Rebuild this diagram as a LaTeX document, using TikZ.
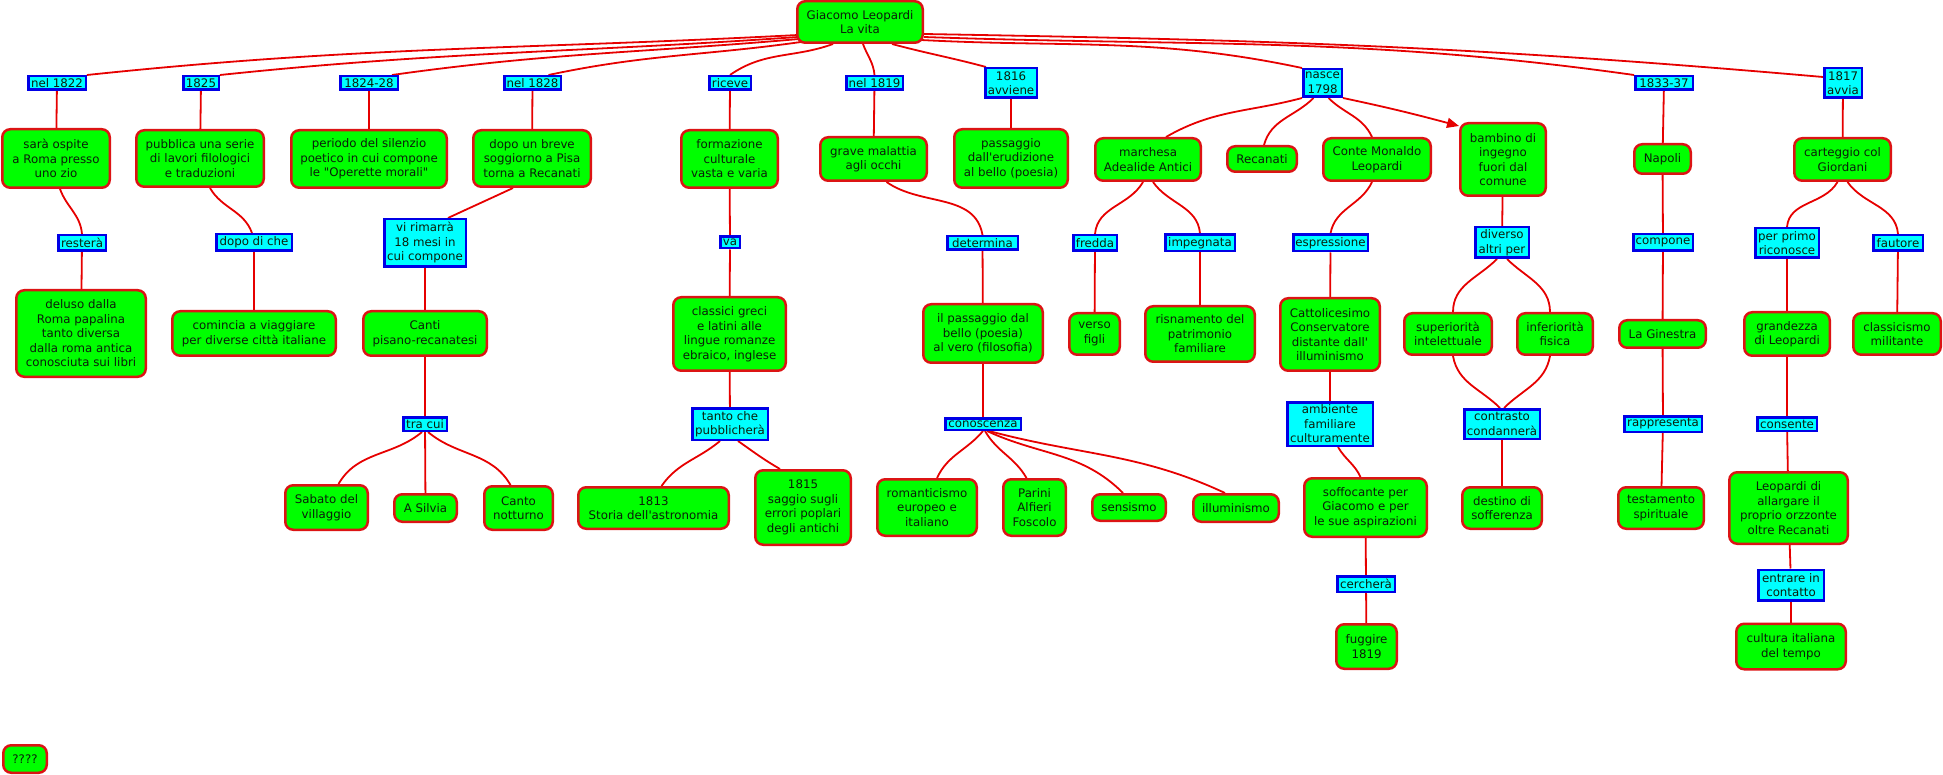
\documentclass[tikz,border=0pt]{standalone}
\usepackage{fontspec}
\setmainfont{DejaVu Sans}[Ligatures=TeXOff]
\usetikzlibrary{arrows.meta,backgrounds}
\definecolor{cgreen}{RGB}{0,255,0}
\definecolor{cred}{RGB}{220,20,20}
\definecolor{cblue}{RGB}{0,0,230}
\definecolor{ccyan}{RGB}{0,255,255}
\definecolor{lred}{RGB}{230,0,0}
\definecolor{ctext}{RGB}{10,30,10}
\begin{document}
\begin{tikzpicture}[x=1pt,y=1pt,
 cpt/.style={draw=cred, line width=2.5pt, fill=cgreen, rounded corners=8pt, align=center, inner sep=1pt, text=ctext, font=\fontsize{11.8}{14.5}\selectfont},
 lab/.style={draw=cblue, line width=2.5pt, fill=ccyan, align=center, inner sep=0pt, text=ctext, font=\fontsize{11.8}{14.5}\selectfont},
 con/.style={draw=lred, line width=1.8pt},
]
\useasboundingbox (0,0) rectangle (1943,-775);
% concepts
\node[cpt,minimum width=125.5pt,minimum height=41.5pt] (root) at (860,-22) {Giacomo Leopardi\\La vita};
\node[cpt,minimum width=107.5pt,minimum height=58.5pt] (sara) at (56,-158.5) {sarà ospite\\a Roma presso\\uno zio};
\node[cpt,minimum width=127.5pt,minimum height=56.5pt] (pubb) at (200,-158.5) {pubblica una serie\\di lavori filologici\\e traduzioni};
\node[cpt,minimum width=155.5pt,minimum height=57.5pt] (peri) at (369,-159) {periodo del silenzio\\poetico in cui compone\\le "Operette morali"};
\node[cpt,minimum width=117.5pt,minimum height=56.5pt] (dopo) at (532,-158.5) {dopo un breve\\soggiorno a Pisa\\torna a Recanati};
\node[cpt,minimum width=96.5pt,minimum height=57.5pt] (form) at (729.5,-159) {formazione\\culturale\\vasta e varia};
\node[cpt,minimum width=106.5pt,minimum height=43.5pt] (grav) at (873.5,-159) {grave malattia\\agli occhi};
\node[cpt,minimum width=113.5pt,minimum height=58.5pt] (pass) at (1011,-158.5) {passaggio\\dall'erudizione\\al bello (poesia)};
\node[cpt,minimum width=105.5pt,minimum height=42.5pt] (marc) at (1148,-159.5) {marchesa\\Adealide Antici};
\node[cpt,minimum width=69.5pt,minimum height=25.5pt] (reca) at (1262,-159) {Recanati};
\node[cpt,minimum width=107.5pt,minimum height=42.5pt] (cont) at (1377,-159.5) {Conte Monaldo\\Leopardi};
\node[cpt,minimum width=85.5pt,minimum height=72.5pt] (bamb) at (1503,-159.5) {bambino di\\ingegno\\fuori dal\\comune};
\node[cpt,minimum width=56.5pt,minimum height=29.5pt] (napo) at (1662.5,-159) {Napoli};
\node[cpt,minimum width=96.5pt,minimum height=42.5pt] (cart) at (1842.5,-159.5) {carteggio col\\Giordani};
\node[cpt,minimum width=129.5pt,minimum height=86.5pt] (delu) at (81,-333.5) {deluso dalla\\Roma papalina\\tanto diversa\\dalla roma antica\\conosciuta sui libri};
\node[cpt,minimum width=163.5pt,minimum height=44.5pt] (comi) at (254,-333.5) {comincia a viaggiare\\per diverse città italiane};
\node[cpt,minimum width=123.5pt,minimum height=44.5pt] (cant) at (425,-333.5) {Canti\\pisano-recanatesi};
\node[cpt,minimum width=112.5pt,minimum height=73.5pt] (clas) at (729.5,-334) {classici greci\\e latini alle\\lingue romanze\\ebraico, inglese};
\node[cpt,minimum width=119.5pt,minimum height=58.5pt] (ilpa) at (983,-333.5) {il passaggio dal\\bello (poesia)\\al vero (filosofia)};
\node[cpt,minimum width=50.5pt,minimum height=41.5pt] (vers) at (1094.5,-334) {verso\\figli};
\node[cpt,minimum width=109.5pt,minimum height=55.5pt] (risn) at (1200,-334) {risnamento del\\patrimonio\\familiare};
\node[cpt,minimum width=99.5pt,minimum height=72.5pt] (catt) at (1330,-334.5) {Cattolicesimo\\Conservatore\\distante dall'\\illuminismo};
\node[cpt,minimum width=87.5pt,minimum height=41.5pt] (supe) at (1448,-334) {superiorità\\intelettuale};
\node[cpt,minimum width=75.5pt,minimum height=41.5pt] (infe) at (1555,-334) {inferiorità\\fisica};
\node[cpt,minimum width=86.5pt,minimum height=27.5pt] (gine) at (1662.5,-334) {La Ginestra};
\node[cpt,minimum width=85.5pt,minimum height=43.5pt] (gran) at (1787,-334) {grandezza\\di Leopardi};
\node[cpt,minimum width=87.5pt,minimum height=41.5pt] (clmi) at (1897,-334) {classicismo\\militante};
\node[cpt,minimum width=82.5pt,minimum height=44.5pt] (saba) at (326.5,-507.5) {Sabato del\\villaggio};
\node[cpt,minimum width=62.5pt,minimum height=27.5pt] (silv) at (425.5,-508) {A Silvia};
\node[cpt,minimum width=68.5pt,minimum height=43.5pt] (nott) at (518.5,-508) {Canto\\notturno};
\node[cpt,minimum width=150.5pt,minimum height=41.5pt] (a1813) at (653.5,-508) {1813\\Storia dell'astronomia};
\node[cpt,minimum width=95.5pt,minimum height=74.5pt] (a1815) at (803,-507.5) {1815\\saggio sugli\\errori poplari\\degli antichi};
\node[cpt,minimum width=99.5pt,minimum height=56.5pt] (roma) at (927,-507.5) {romanticismo\\europeo e\\italiano};
\node[cpt,minimum width=62.5pt,minimum height=56.5pt] (pari) at (1034.5,-507.5) {Parini\\Alfieri\\Foscolo};
\node[cpt,minimum width=73.5pt,minimum height=26.5pt] (sens) at (1129,-507.5) {sensismo};
\node[cpt,minimum width=85.5pt,minimum height=27.5pt] (illu) at (1236,-508) {illuminismo};
\node[cpt,minimum width=122.5pt,minimum height=58.5pt] (soff) at (1365.5,-507.5) {soffocante per\\Giacomo e per\\le sue aspirazioni};
\node[cpt,minimum width=79.5pt,minimum height=41.5pt] (dest) at (1502,-508) {destino di\\sofferenza};
\node[cpt,minimum width=85.5pt,minimum height=41.5pt] (test) at (1661,-508) {testamento\\spirituale};
\node[cpt,minimum width=118.5pt,minimum height=71.5pt] (allar) at (1788.5,-508) {Leopardi di\\allargare il\\proprio orzzonte\\oltre Recanati};
\node[cpt,minimum width=60.5pt,minimum height=44.5pt] (fugg) at (1366.5,-646.5) {fuggire\\1819};
\node[cpt,minimum width=109.5pt,minimum height=45.5pt] (cult) at (1791,-646.5) {cultura italiana\\del tempo};
\node[cpt,minimum width=43.5pt,minimum height=27.5pt] (qq) at (25,-759) {????};
% labels
\node[lab,minimum width=57.5pt,minimum height=13.5pt] (l1822) at (57,-83) {nel 1822};
\node[lab,minimum width=35.5pt,minimum height=13.5pt] (l1825) at (201,-83) {1825};
\node[lab,minimum width=57.5pt,minimum height=13.5pt] (l1824) at (369,-83) {1824-28};
\node[lab,minimum width=56.5pt,minimum height=13.5pt] (l1828) at (532.5,-83) {nel 1828};
\node[lab,minimum width=41.5pt,minimum height=13.5pt] (lric) at (730,-83) {riceve};
\node[lab,minimum width=56.5pt,minimum height=13.5pt] (l1819) at (874.5,-83) {nel 1819};
\node[lab,minimum width=51.5pt,minimum height=29.5pt] (l1816) at (1011,-83) {1816\\avviene};
\node[lab,minimum width=38.5pt,minimum height=27.5pt] (nasc) at (1322.5,-83) {nasce\\1798};
\node[lab,minimum width=57.5pt,minimum height=13.5pt] (l1833) at (1664,-83) {1833-37};
\node[lab,minimum width=37.5pt,minimum height=29.5pt] (l1817) at (1843,-83) {1817\\avvia};
\node[lab,minimum width=47.5pt,minimum height=15.5pt] (rest) at (82,-243) {resterà};
\node[lab,minimum width=75.5pt,minimum height=16.5pt] (dodc) at (254,-242.5) {dopo di che};
\node[lab,minimum width=81.5pt,minimum height=47.5pt] (vrim) at (425,-243) {vi rimarrà\\18 mesi in\\cui compone};
\node[lab,minimum width=19.5pt,minimum height=11.5pt] (va) at (730,-242.5) {va};
\node[lab,minimum width=70.5pt,minimum height=13.5pt] (dete) at (982.5,-243) {determina};
\node[lab,minimum width=43.5pt,minimum height=15.5pt] (fred) at (1095,-243) {fredda};
\node[lab,minimum width=69.5pt,minimum height=16.5pt] (impe) at (1200,-243) {impegnata};
\node[lab,minimum width=74.5pt,minimum height=16.5pt] (espr) at (1330.5,-243) {espressione};
\node[lab,minimum width=53.5pt,minimum height=30.5pt] (dive) at (1502,-242.5) {diverso\\altri per};
\node[lab,minimum width=59.5pt,minimum height=16.5pt] (comp) at (1663,-242.5) {compone};
\node[lab,minimum width=63.5pt,minimum height=29.5pt] (perp) at (1787,-243) {per primo\\riconosce};
\node[lab,minimum width=49.5pt,minimum height=15.5pt] (faut) at (1898,-243) {fautore};
\node[lab,minimum width=43.5pt,minimum height=13.5pt] (trac) at (425,-424) {tra cui};
\node[lab,minimum width=75.5pt,minimum height=31.5pt] (tant) at (730,-424) {tanto che\\pubblicherà};
\node[lab,minimum width=75.5pt,minimum height=11.5pt] (cono) at (983,-424) {conoscenza};
\node[lab,minimum width=85.5pt,minimum height=43.5pt] (ambi) at (1330,-424) {ambiente\\familiare\\culturamente};
\node[lab,minimum width=75.5pt,minimum height=29.5pt] (cntr) at (1502,-424) {contrasto\\condannerà};
\node[lab,minimum width=77.5pt,minimum height=15.5pt] (rapp) at (1663,-424) {rappresenta};
\node[lab,minimum width=59.5pt,minimum height=13.5pt] (cons) at (1787,-424) {consente};
\node[lab,minimum width=57.5pt,minimum height=15.5pt] (cerc) at (1366,-584) {cercherà};
\node[lab,minimum width=65.5pt,minimum height=30.5pt] (entr) at (1791,-585) {entrare in\\contatto};
% connectors
\begin{scope}[on background layer]
\draw[con] (l1822.north east) to[out=6,in=183] ([xshift=2pt,yshift=-13pt]root.west);
\draw[con] (l1825.north east) to[out=6,in=184] ([xshift=2pt,yshift=-15pt]root.west);
\draw[con] ([xshift=-7pt]l1824.north east) to[out=8,in=185] ([xshift=3pt,yshift=-17pt]root.west);
\draw[con] ([xshift=16pt]l1828.north) to[out=12,in=188] ([xshift=5pt,yshift=-20pt]root.west);
\draw[con] ([xshift=-27pt]root.south) to[out=200,in=35] (lric.north);
\draw[con] ([xshift=3pt]root.south) to[out=-70,in=95] (l1819.north);
\draw[con] ([xshift=32pt]root.south) to[out=-15,in=165] ([xshift=2pt]l1816.north west);
\draw[con] ([xshift=-3pt,yshift=-18pt]root.east) to[out=-3,in=168] (nasc.north west);
\draw[con] ([yshift=-15pt]root.east) to[out=-2,in=172] (l1833.north west);
\draw[con] ([yshift=-12pt]root.east) to[out=-1,in=175] ([yshift=6pt]l1817.west);
\draw[con] (l1822) -- (sara);
\draw[con] ([xshift=4pt]sara.south) to[out=-70,in=95] (rest.north);
\draw[con] (rest) -- (delu);
\draw[con] (l1825) -- (pubb);
\draw[con] ([xshift=10pt]pubb.south) to[out=-60,in=110] ([xshift=-2pt]dodc.north);
\draw[con] (dodc) -- (comi);
\draw[con] (l1824) -- (peri);
\draw[con] (l1828) -- (dopo);
\draw[con] ([xshift=-19pt]dopo.south) to[out=-155,in=25] ([xshift=23pt]vrim.north);
\draw[con] (vrim) -- (cant);
\draw[con] (cant) -- (trac);
\draw[con] ([xshift=-3pt]trac.south) to[out=-140,in=60] ([xshift=12pt]saba.north);
\draw[con] (trac) -- (silv);
\draw[con] ([xshift=3pt]trac.south) to[out=-40,in=120] ([xshift=-8pt]nott.north);
\draw[con] (lric) -- (form);
\draw[con] (form) -- (va);
\draw[con] (va) -- (clas);
\draw[con] (clas) -- (tant);
\draw[con] ([xshift=-10pt]tant.south) to[out=-140,in=55] ([xshift=8pt]a1813.north);
\draw[con] ([xshift=8pt]tant.south) to[out=-35,in=150] ([xshift=-23pt]a1815.north);
\draw[con] (l1819) -- (grav);
\draw[con] ([xshift=13pt]grav.south) to[out=-35,in=100] (dete.north);
\draw[con] (dete) -- (ilpa);
\draw[con] (ilpa) -- (cono);
\draw[con] (cono.south) to[out=-130,in=65] ([xshift=10pt]roma.north);
\draw[con] ([xshift=2pt]cono.south) to[out=-60,in=120] ([xshift=-8pt]pari.north);
\draw[con] ([xshift=4pt]cono.south) to[out=-25,in=135] ([xshift=-6pt]sens.north);
\draw[con] ([xshift=6pt]cono.south) to[out=-15,in=155] ([xshift=-11pt]illu.north);
\draw[con] (l1816) -- (pass);
\draw[con] (nasc.south west) to[out=-165,in=30] ([xshift=18pt]marc.north);
\draw[con] ([xshift=-9pt]nasc.south) to[out=-135,in=75] ([xshift=2pt]reca.north);
\draw[con] ([xshift=6pt]nasc.south) to[out=-45,in=115] ([xshift=-5pt]cont.north);
\draw[con] ([xshift=-5pt]marc.south) to[out=-120,in=85] (fred.north);
\draw[con] ([xshift=5pt]marc.south) to[out=-55,in=95] (impe.north);
\draw[con] (fred) -- (vers);
\draw[con] (impe) -- (risn);
\draw[con] ([xshift=-5pt]cont.south) to[out=-115,in=80] (espr.north);
\draw[con] (espr) -- (catt);
\draw[con] (catt) -- (ambi);
\draw[con] ([xshift=8pt]ambi.south) to[out=-60,in=115] ([xshift=-5pt]soff.north);
\draw[con] (soff) -- (cerc);
\draw[con] (cerc) -- (fugg);
\draw[con] (bamb) -- (dive);
\draw[con] ([xshift=-5pt]dive.south) to[out=-135,in=90] ([xshift=5pt]supe.north);
\draw[con] ([xshift=5pt]dive.south) to[out=-45,in=90] ([xshift=-5pt]infe.north);
\draw[con] ([xshift=5pt]supe.south) to[out=-80,in=135] ([xshift=-2pt]cntr.north);
\draw[con] ([xshift=-5pt]infe.south) to[out=-100,in=45] ([xshift=2pt]cntr.north);
\draw[con] (cntr) -- (dest);
\draw[con] (l1833) -- (napo);
\draw[con] (napo) -- (comp);
\draw[con] (comp) -- (gine);
\draw[con] (gine) -- (rapp);
\draw[con] (rapp) -- (test);
\draw[con] (l1817) -- (cart);
\draw[con] ([xshift=-5pt]cart.south) to[out=-120,in=85] (perp.north);
\draw[con] ([xshift=5pt]cart.south) to[out=-55,in=95] (faut.north);
\draw[con] (perp) -- (gran);
\draw[con] (gran) -- (cons);
\draw[con] (cons) -- (allar);
\draw[con] (allar) -- (entr);
\draw[con] (entr) -- (cult);
\draw[con] (faut) -- (clmi);
\end{scope}
\draw[con,-{Triangle[length=12pt,width=10pt]}] (nasc.south east) to[out=-12,in=165] ([yshift=-4pt]bamb.north west);
\end{tikzpicture}
\end{document}
